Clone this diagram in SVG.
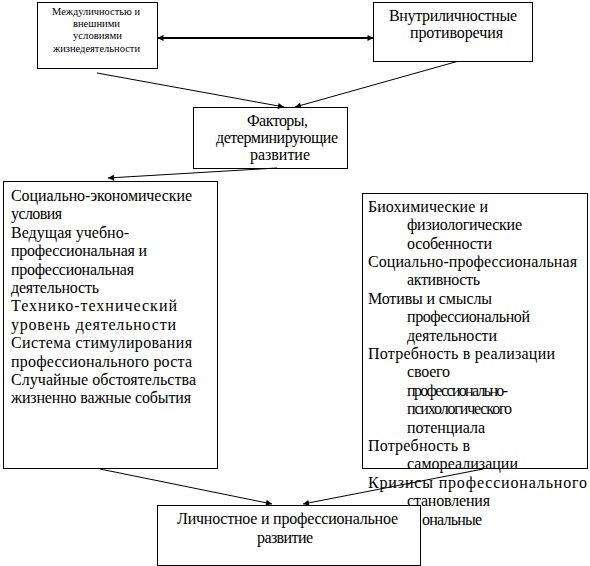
<svg xmlns="http://www.w3.org/2000/svg" width="590" height="566" viewBox="0 0 590 566">
<defs>
<marker id="ah" viewBox="0 0 10 10" refX="10" refY="5" markerWidth="8" markerHeight="6" orient="auto-start-reverse" markerUnits="userSpaceOnUse">
<path d="M0,0 L10,5 L0,10 z" fill="#000"/>
</marker>
</defs>
<rect width="590" height="566" fill="#fff"/>
<g id="node-mezhlich">
<rect x="37.5" y="2.5" width="120" height="66" fill="#fff" stroke="#000"/>
<text style="font-family:'Liberation Serif',serif;font-size:10px"><tspan x="52" y="15" textLength="88" lengthAdjust="spacingAndGlyphs">Междуличностью и</tspan><tspan x="73" y="27" textLength="47" lengthAdjust="spacingAndGlyphs">внешними</tspan><tspan x="73" y="39" textLength="49" lengthAdjust="spacingAndGlyphs">условиями</tspan><tspan x="53" y="51.5" textLength="87" lengthAdjust="spacingAndGlyphs">жизнедеятельности</tspan></text>
</g>
<g id="node-vnutri">
<rect x="373.5" y="2.5" width="159" height="59" fill="#fff" stroke="#000"/>
<text style="font-family:'Liberation Serif',serif;font-size:16px"><tspan x="389" y="21" textLength="128" lengthAdjust="spacing">Внутриличностные</tspan><tspan x="410" y="38" textLength="93" lengthAdjust="spacing">противоречия</tspan></text>
</g>
<g id="node-faktory">
<rect x="193.5" y="107.5" width="154" height="61" fill="#fff" stroke="#000"/>
<text style="font-family:'Liberation Serif',serif;font-size:16px"><tspan x="247" y="126" textLength="61" lengthAdjust="spacing">Факторы,</tspan><tspan x="216" y="143" textLength="122" lengthAdjust="spacing">детерминирующие</tspan><tspan x="250" y="160" textLength="60" lengthAdjust="spacing">развитие</tspan></text>
</g>
<g id="node-left">
<rect x="3.5" y="181.5" width="214" height="287" fill="#fff" stroke="#000"/>
<text style="font-family:'Liberation Serif',serif;font-size:16px"><tspan x="11" y="201" textLength="181" lengthAdjust="spacing">Социально-экономические</tspan><tspan x="11" y="219.4" textLength="51" lengthAdjust="spacing">условия</tspan><tspan x="11" y="237.8" textLength="118" lengthAdjust="spacing">Ведущая учебно-</tspan><tspan x="11" y="256.2" textLength="136" lengthAdjust="spacing">профессиональная и</tspan><tspan x="11" y="274.6" textLength="123" lengthAdjust="spacing">профессиональная</tspan><tspan x="11" y="293" textLength="88" lengthAdjust="spacing">деятельность</tspan><tspan x="11" y="311.4" textLength="166" lengthAdjust="spacing">Технико-технический</tspan><tspan x="11" y="329.8" textLength="165" lengthAdjust="spacing">уровень деятельности</tspan><tspan x="11" y="348.2" textLength="181" lengthAdjust="spacing">Система стимулирования</tspan><tspan x="11" y="366.6" textLength="181" lengthAdjust="spacing">профессионального роста</tspan><tspan x="11" y="385" textLength="185" lengthAdjust="spacing">Случайные обстоятельства</tspan><tspan x="11" y="403.4" textLength="180" lengthAdjust="spacing">жизненно важные события</tspan></text>
</g>
<g id="node-right">
<rect x="362.5" y="193.5" width="225" height="275" fill="#fff" stroke="#000"/>
<text style="font-family:'Liberation Serif',serif;font-size:16px"><tspan x="368" y="211.7" textLength="120" lengthAdjust="spacing">Биохимические и</tspan><tspan x="407" y="230.1" textLength="115" lengthAdjust="spacing">физиологические</tspan><tspan x="407" y="248.5" textLength="85" lengthAdjust="spacing">особенности</tspan><tspan x="368" y="266.9" textLength="209" lengthAdjust="spacing">Социально-профессиональная</tspan><tspan x="407" y="285.3" textLength="73" lengthAdjust="spacing">активность</tspan><tspan x="368" y="303.7" textLength="124" lengthAdjust="spacing">Мотивы и смыслы</tspan><tspan x="407" y="322.1" textLength="123" lengthAdjust="spacing">профессиональной</tspan><tspan x="407" y="340.5" textLength="90" lengthAdjust="spacing">деятельности</tspan><tspan x="368" y="358.9" textLength="187" lengthAdjust="spacing">Потребность в реализации</tspan><tspan x="407" y="377.3" textLength="43" lengthAdjust="spacing">своего</tspan><tspan x="407" y="395.7" textLength="101" lengthAdjust="spacing">профессионально-</tspan><tspan x="407" y="414.1" textLength="105" lengthAdjust="spacing">психологического</tspan><tspan x="407" y="432.5" textLength="78" lengthAdjust="spacing">потенциала</tspan><tspan x="368" y="450.9" textLength="102" lengthAdjust="spacing">Потребность в</tspan><tspan x="407" y="469.3" textLength="111" lengthAdjust="spacing">самореализации</tspan><tspan x="368" y="487.7" textLength="219" lengthAdjust="spacing">Кризисы профессионального</tspan><tspan x="407" y="506.1" textLength="83" lengthAdjust="spacing">становления</tspan><tspan x="422" y="524.5" textLength="60" lengthAdjust="spacing">ональные</tspan></text>
</g>
<g id="node-bottom">
<rect x="157.5" y="505.5" width="263" height="60" fill="#fff" stroke="#000"/>
<text style="font-family:'Liberation Serif',serif;font-size:16px"><tspan x="177" y="524" textLength="221" lengthAdjust="spacing">Личностное и профессиональное</tspan><tspan x="257" y="543" textLength="56" lengthAdjust="spacing">развитие</tspan></text>
</g>
<g id="connectors" stroke="#000" fill="none">
<line x1="157.5" y1="38" x2="373.5" y2="38" stroke-width="2" marker-start="url(#ah)" marker-end="url(#ah)"/>
<line x1="97" y1="73" x2="284" y2="107" marker-end="url(#ah)"/>
<line x1="457" y1="61.5" x2="295" y2="107" marker-end="url(#ah)"/>
<line x1="277" y1="168" x2="108" y2="178" marker-end="url(#ah)"/>
<line x1="100" y1="469" x2="272" y2="504" marker-end="url(#ah)"/>
<line x1="483" y1="469" x2="303" y2="504" marker-end="url(#ah)"/>
</g>
</svg>
